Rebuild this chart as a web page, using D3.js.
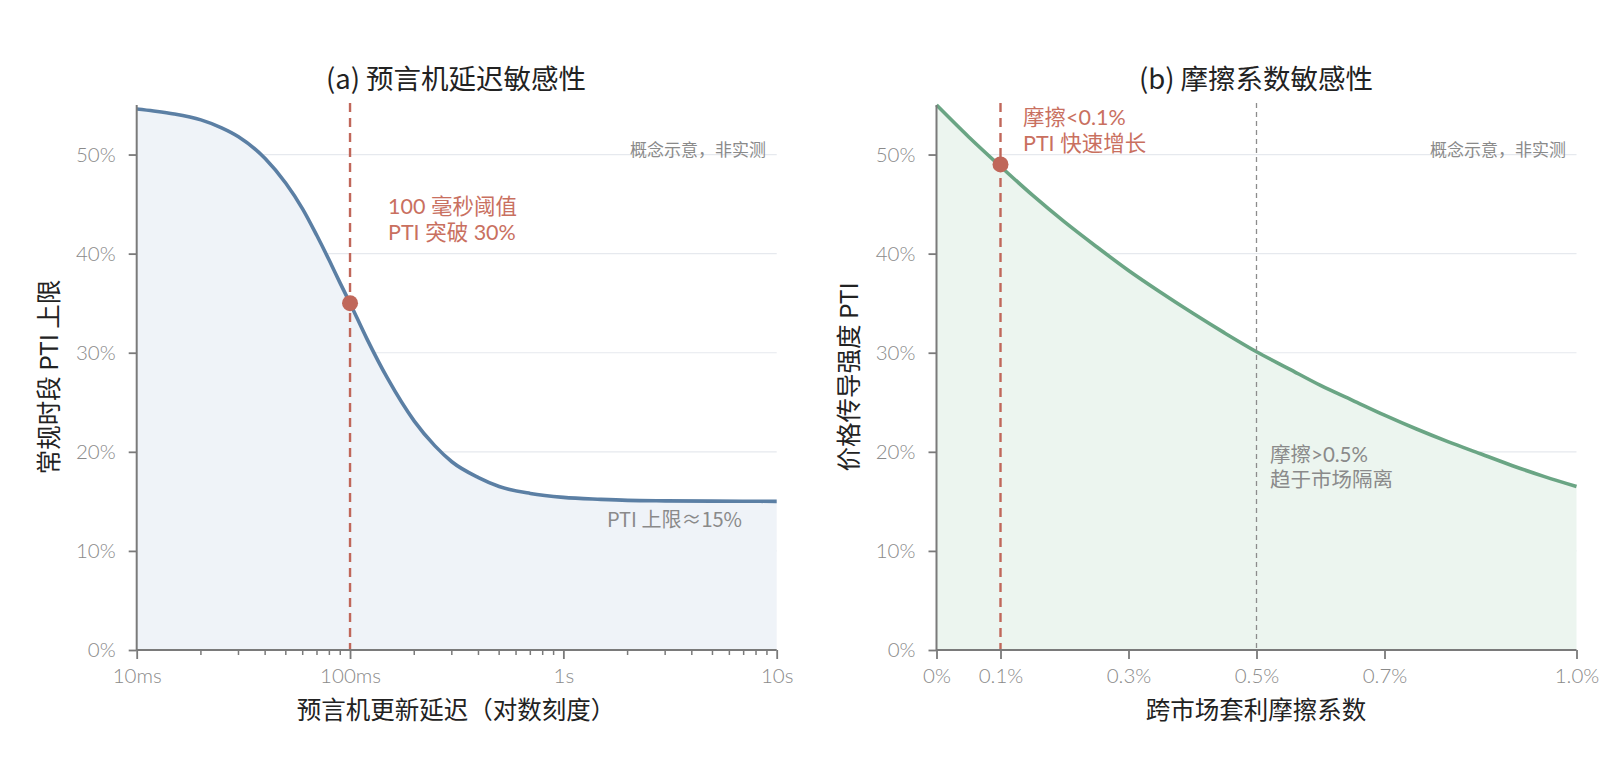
<!DOCTYPE html>
<html><head><meta charset="utf-8">
<script src="https://cdn.jsdelivr.net/npm/d3@7"></script>
<style>
html,body{margin:0;padding:0;background:#fff;}
svg{display:block;font-family:"Noto Sans CJK SC","Noto Sans",sans-serif;}
</style></head>
<body><svg id="c" width="1600" height="778"></svg>
<script>
// ---- data ----
const latencyMs = [10,12,15,20,25,30,40,50,60,70,80,90,100,120,150,200,250,300,400,500,700,1000,1500,2000,3000,5000,7000,10000];
const latencyPTI = [54.6,54.4,54.1,53.5,52.7,51.8,49.6,47.1,44.5,41.8,39.3,37.0,35.0,31.4,27.4,23.1,20.6,19.0,17.4,16.5,15.8,15.4,15.2,15.1,15.05,15.02,15.01,15.0];
const frictionPct = [0,0.05,0.1,0.15,0.2,0.25,0.3,0.35,0.4,0.45,0.5,0.55,0.6,0.65,0.7,0.75,0.8,0.85,0.9,0.95,1.0];
const frictionPTI = [55.0,51.8,48.8,45.9,43.2,40.7,38.3,36.1,34.0,32.0,30.1,28.4,26.7,25.2,23.7,22.3,21.0,19.8,18.6,17.5,16.5];
const yTicks = [0,10,20,30,40,50];
const latencyMajorTicks = [10,100,1000,10000];
const latencyTickLabels = ["10ms","100ms","1s","10s"];
const frictionTicks = [0,0.1,0.3,0.5,0.7,1.0];
const frictionTickLabels = ["0%","0.1%","0.3%","0.5%","0.7%","1.0%"];
const latencyMarker = {x:100, y:35};
const frictionMarker = {x:0.1, y:49};
const frictionIsolation = 0.5;

const svg = d3.select("#c");
const plotTop = 105, plotBottom = 650, W = 640;
const axisColor = "#7a7a7a", gridColor = "#e6e9ee", tickText = "#8a8a8a";
const red = "#c0675a", redText = "#c9705f";
const lightFont = 'Lato,"Noto Sans CJK SC",sans-serif';

const y = d3.scaleLinear().domain([0,55]).range([plotBottom, plotTop]);

function panel(x0, xScale, opts){
  const g = svg.append("g");
  g.selectAll(".grid").data(yTicks.filter(d=>d>0)).join("line")
    .attr("x1", x0).attr("x2", x0+W)
    .attr("y1", d=>y(d)).attr("y2", d=>y(d))
    .attr("stroke", gridColor).attr("stroke-width", 1.2);
  const pts = opts.xs.map((d,i)=>[d, opts.ys[i]]);
  const area = d3.area().x(d=>xScale(d[0])).y0(plotBottom).y1(d=>y(d[1])).curve(d3.curveMonotoneX);
  const line = d3.line().x(d=>xScale(d[0])).y(d=>y(d[1])).curve(d3.curveMonotoneX);
  g.append("path").attr("d", area(pts)).attr("fill", opts.fill);
  g.append("path").attr("d", line(pts)).attr("fill","none").attr("stroke", opts.stroke).attr("stroke-width", 3.6);
  return g;
}
function label(x, yy, txt, size, color, anchor, family){
  const t = svg.append("text").attr("x", x).attr("y", yy).attr("text-anchor", anchor||"start")
    .attr("font-size", size).attr("fill", color).text(txt);
  if (family) t.attr("font-family", family);
  return t;
}

// ---------- Panel (a) ----------
const xa0 = 136.7;
const xa = d3.scaleLog().domain([10,10000]).range([xa0, xa0+W]);
const ga = panel(xa0, xa, {xs:latencyMs, ys:latencyPTI, fill:"#eff3f8", stroke:"#5b7fa4"});
ga.append("line").attr("x1", xa(latencyMarker.x)).attr("x2", xa(latencyMarker.x))
  .attr("y1", plotTop-2).attr("y2", plotBottom).attr("stroke", red).attr("stroke-width", 2.4).attr("stroke-dasharray","9,6");
ga.append("circle").attr("cx", xa(latencyMarker.x)).attr("cy", y(latencyMarker.y)).attr("r", 8).attr("fill", red);
const ya = d3.axisLeft(y).tickValues(yTicks).tickFormat(d=>d+"%").tickSize(8).tickPadding(13);
const yAxA = svg.append("g").attr("transform",`translate(${xa0},0)`).call(ya);
const xAxA = svg.append("g").attr("transform",`translate(0,${plotBottom})`)
  .call(d3.axisBottom(xa).tickValues(latencyMajorTicks).tickFormat((d,i)=>latencyTickLabels[i]).tickSize(9).tickPadding(9));
const minors = [];
[10,100,1000].forEach(b=>{for(let k=2;k<=9;k++) minors.push(b*k);});
svg.append("g").selectAll("line").data(minors).join("line")
  .attr("x1", d=>xa(d)).attr("x2", d=>xa(d)).attr("y1", plotBottom).attr("y2", plotBottom+5)
  .attr("stroke", axisColor).attr("stroke-width", 1.5);

label(456, 89, "(a) 预言机延迟敏感性", 27.5, "#222", "middle");
svg.append("text").attr("transform","translate(58,377) rotate(-90)").attr("text-anchor","middle")
  .attr("font-size", 24.5).attr("fill","#222").text("常规时段 PTI 上限");
label(456, 719, "预言机更新延迟（对数刻度）", 24.5, "#222", "middle");
label(388, 214, "100 毫秒阈值", 21.5, redText, "start", lightFont);
label(388, 240, "PTI 突破 30%", 21.5, redText, "start", lightFont);
label(766, 156, "概念示意，非实测", 17, "#8a8a8a", "end");
label(742, 527, "PTI 上限≈15%", 20, "#8a8a8a", "end");

// ---------- Panel (b) ----------
const xb0 = 936.5;
const xb = d3.scaleLinear().domain([0,1.0]).range([xb0, xb0+W]);
const gb = panel(xb0, xb, {xs:frictionPct, ys:frictionPTI, fill:"#ecf5ef", stroke:"#6aa584"});
gb.append("line").attr("x1", xb(frictionIsolation)).attr("x2", xb(frictionIsolation))
  .attr("y1", plotTop-2).attr("y2", plotBottom).attr("stroke", "#8c8c8c").attr("stroke-width", 1.3).attr("stroke-dasharray","5,4");
gb.append("line").attr("x1", xb(frictionMarker.x)).attr("x2", xb(frictionMarker.x))
  .attr("y1", plotTop-2).attr("y2", plotBottom).attr("stroke", red).attr("stroke-width", 2.4).attr("stroke-dasharray","9,6");
gb.append("circle").attr("cx", xb(frictionMarker.x)).attr("cy", y(frictionMarker.y)).attr("r", 8).attr("fill", red);
const yAxB = svg.append("g").attr("transform",`translate(${xb0},0)`).call(ya);
const xAxB = svg.append("g").attr("transform",`translate(0,${plotBottom})`)
  .call(d3.axisBottom(xb).tickValues(frictionTicks).tickFormat((d,i)=>frictionTickLabels[i]).tickSize(9).tickPadding(9));

label(1256, 89, "(b) 摩擦系数敏感性", 27.5, "#222", "middle");
svg.append("text").attr("transform","translate(858,377) rotate(-90)").attr("text-anchor","middle")
  .attr("font-size", 24.5).attr("fill","#222").text("价格传导强度 PTI");
label(1256, 719, "跨市场套利摩擦系数", 24.5, "#222", "middle");
label(1023, 125, "摩擦<0.1%", 21.5, redText, "start", lightFont);
label(1023, 151, "PTI 快速增长", 21.5, redText, "start", lightFont);
label(1270, 462, "摩擦>0.5%", 20.5, "#8a8a8a", "start", lightFont);
label(1270, 487, "趋于市场隔离", 20.5, "#8a8a8a", "start", lightFont);
label(1566, 156, "概念示意，非实测", 17, "#8a8a8a", "end");

[yAxA,xAxA,yAxB,xAxB].forEach(a=>{
  a.select(".domain").attr("stroke", axisColor).attr("stroke-width", 2);
  a.selectAll(".tick line").attr("stroke", axisColor).attr("stroke-width", 1.8);
  a.selectAll(".tick text").attr("fill", tickText).attr("font-size", 20.5)
    .attr("font-weight", 300).attr("font-family", lightFont);
});
[yAxA,yAxB].forEach(a=>a.select(".domain").attr("d", `M0,${plotBottom}V${plotTop}`));
xAxA.select(".domain").attr("d", `M${xa0},0H${xa0+W}`);
xAxB.select(".domain").attr("d", `M${xb0},0H${xb0+W}`);
</script></body></html>
